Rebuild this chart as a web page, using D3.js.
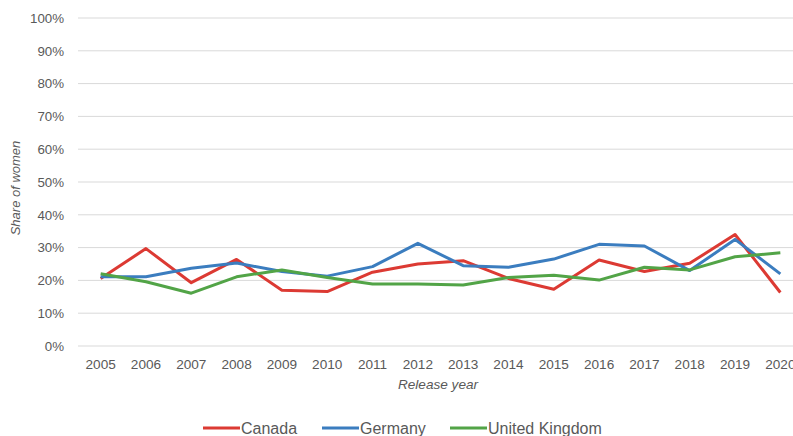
<!DOCTYPE html>
<html>
<head>
<meta charset="utf-8">
<script src="https://cdn.jsdelivr.net/npm/d3@7"></script>
<style>
  body { margin: 0; background: #fff; }
  svg { display: block; font-family: "Liberation Sans", Arial, sans-serif; }
</style>
</head>
<body>
<svg id="chart" width="793" height="436"></svg>
<script>
// Data
const years = ["2005","2006","2007","2008","2009","2010","2011","2012",
               "2013","2014","2015","2016","2017","2018","2019","2020"];
const canada  = [20.6, 29.7, 19.3, 26.4, 17.0, 16.6, 22.5, 25.0, 26.0, 20.6, 17.3, 26.2, 22.7, 25.2, 34.0, 16.3];
const germany = [21.1, 21.1, 23.7, 25.3, 22.7, 21.3, 24.2, 31.3, 24.5, 24.0, 26.5, 31.0, 30.5, 23.0, 32.5, 22.0];
const uk      = [22.0, 19.6, 16.1, 21.1, 23.2, 20.9, 18.9, 18.9, 18.6, 20.9, 21.6, 20.1, 24.0, 23.2, 27.2, 28.4];
const yTicks  = [0, 10, 20, 30, 40, 50, 60, 70, 80, 90, 100];

const series = [
  { name: "Canada", values: canada, color: "#dc3a33" },
  { name: "Germany", values: germany, color: "#3b7dbf" },
  { name: "United Kingdom", values: uk, color: "#52a447" }
];

const svg = d3.select("#chart");
const textColor = "#595959";

const x = d3.scaleBand().domain(years).range([78, 803]);
const y = d3.scaleLinear().domain([0, 100]).range([346, 18]);

// gridlines
svg.append("g")
  .selectAll("line")
  .data(yTicks)
  .enter()
  .append("line")
  .attr("x1", 78).attr("x2", 793)
  .attr("y1", d => y(d)).attr("y2", d => y(d))
  .attr("stroke", "#d9d9d9")
  .attr("stroke-width", 1);

// y tick labels
svg.append("g")
  .selectAll("text")
  .data(yTicks)
  .enter()
  .append("text")
  .attr("x", 64)
  .attr("y", d => y(d) + 4.7)
  .attr("text-anchor", "end")
  .attr("fill", textColor)
  .style("font-size", "13.3px")
  .text(d => d + "%");

// x tick labels
svg.append("g")
  .selectAll("text")
  .data(years)
  .enter()
  .append("text")
  .attr("x", d => x(d) + x.bandwidth() / 2)
  .attr("y", 368.5)
  .attr("text-anchor", "middle")
  .attr("fill", textColor)
  .style("font-size", "13.6px")
  .text(d => d);

// axis titles
svg.append("text")
  .attr("x", 438).attr("y", 389)
  .attr("text-anchor", "middle")
  .attr("fill", textColor)
  .style("font-size", "13.6px")
  .style("font-style", "italic")
  .text("Release year");

svg.append("text")
  .attr("transform", "translate(20,188) rotate(-90)")
  .attr("text-anchor", "middle")
  .attr("fill", textColor)
  .style("font-size", "13px")
  .style("font-style", "italic")
  .text("Share of women");

// lines
const line = d3.line()
  .x((d, i) => x(years[i]) + x.bandwidth() / 2)
  .y(d => y(d));

svg.append("g")
  .selectAll("path")
  .data(series)
  .enter()
  .append("path")
  .attr("d", s => line(s.values))
  .attr("fill", "none")
  .attr("stroke", s => s.color)
  .attr("stroke-width", 3)
  .attr("stroke-linejoin", "round");

// legend
const legendX = [203, 322, 450];
const legend = svg.append("g")
  .selectAll("g")
  .data(series)
  .enter()
  .append("g")
  .attr("transform", (s, i) => `translate(${legendX[i]},428)`);

legend.append("line")
  .attr("x1", 0).attr("x2", 37)
  .attr("stroke", s => s.color)
  .attr("stroke-width", 3);

legend.append("text")
  .attr("x", 38)
  .attr("y", 5.8)
  .attr("fill", textColor)
  .style("font-size", "16px")
  .text(s => s.name);
</script>
</body>
</html>
